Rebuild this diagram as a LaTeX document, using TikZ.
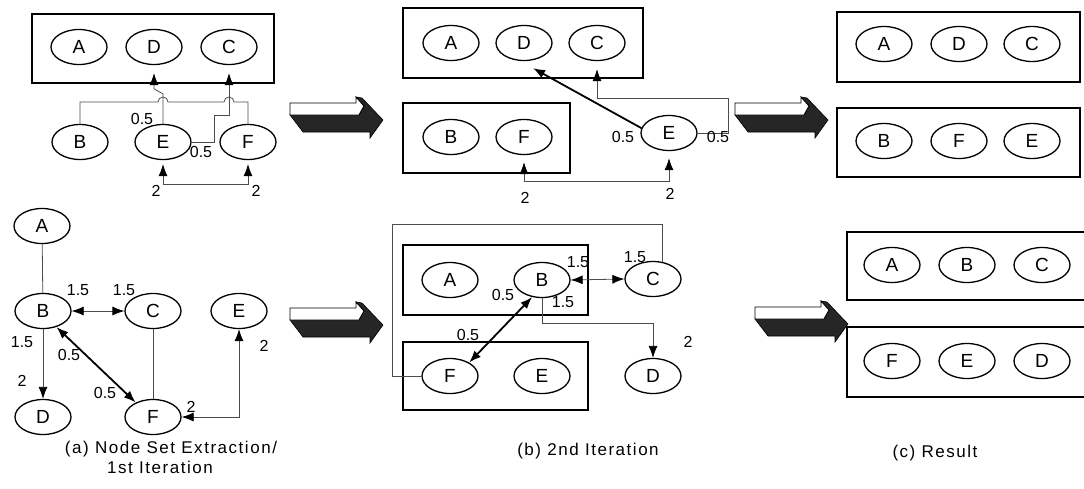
\documentclass[tikz,border=0pt]{standalone}
\usepackage{fontspec}
\setmainfont{Liberation Sans}
\usetikzlibrary{shapes.geometric,arrows.meta,calc}

\tikzset{
  tri/.tip={Latex[length=12pt,width=9pt,color=black]},
  nd/.style={ellipse, draw=black, line width=1.3pt, minimum width=56pt,
    minimum height=35pt, inner sep=0pt, font=\fontsize{19}{19}\selectfont},
  grp/.style={draw=black, line width=1.6pt},
  ln/.style={draw=black!70, line width=0.8pt},
  arr/.style={ln, -tri},
  darr/.style={ln, tri-tri},
  thk/.style={draw=black, line width=1.8pt},
  lbl/.style={inner sep=0pt, font=\fontsize{16}{16}\selectfont},
  capt/.style={inner sep=0pt, align=center,
    font=\fontsize{17}{19}\selectfont\addfontfeature{LetterSpace=9}},
  % shaded 3-D block arrow between the stages
  blockarrow/.pic={
    \fill[black!85, draw=black, line width=0.6pt]
      (0,18) -- (69,18) -- (74,9) -- (66,0) -- (72,1) -- (93,23)
      -- (80,41) -- (80,35) -- (13,35) -- cycle;
    \filldraw[fill=white, draw=black, line width=0.9pt]
      (0,6) -- (66,6) -- (66,0) -- (74,9) -- (69,18) -- (0,18) -- cycle;
  }
}

\begin{document}
\begin{tikzpicture}[x=1pt,y=-1pt]
\useasboundingbox (0,0) rectangle (1084,488);

% ---------- (a) upper: node set extraction ----------
\draw[grp] (32,14) rectangle (274,83);
\node[nd] (a1A) at (79,47) {A};
\node[nd] (a1D) at (154,47) {D};
\node[nd] (a1C) at (229,47) {C};
\node[nd] (a1B) at (80,142) {B};
\node[nd] (a1E) at (163,142) {E};
\node[nd] (a1F) at (248,142) {F};
\draw[ln] (a1B.north) |- (158,102)
  arc[start angle=180,end angle=0,radius=5pt] -- (224,102)
  arc[start angle=180,end angle=0,radius=5pt] -| (a1F.north);
\draw[arr,shorten >=8pt] (a1E.north) -- ++(0,-30) -- ++(-9,-5) -| (a1D.south);
\draw[arr,shorten >=8pt] (a1E.east) -- ++(23,0) |- ($(a1C.south)+(0,50)$) -- (a1C.south);
\draw[darr,shorten <=4pt,shorten >=4pt] (a1E.south) |- ($(a1F.south)+(0,24)$) -- (a1F.south);
\node[lbl] (a1l1) at (142,119) {0.5};
\node[lbl] (a1l2) at (201,152) {0.5};
\node[lbl] (a1l3) at (156,191) {2};
\node[lbl] (a1l4) at (256,191) {2};

% ---------- (a) lower: graph ----------
\node[nd] (a2A) at (42,226) {A};
\node[nd] (a2B) at (43,311) {B};
\node[nd] (a2C) at (153,311) {C};
\node[nd] (a2E) at (239,311) {E};
\node[nd] (a2D) at (43,417) {D};
\node[nd] (a2F) at (153,417) {F};
\draw[ln] (a2A) -- (a2B);
\draw[darr] (a2B.east) -- (a2C.west);
\draw[arr] (a2B.south) -- (a2D.north);
\draw[ln] (a2C.south) -- (a2F.north);
\draw[thk,tri-tri] (a2B.-50) -- (a2F.140);
\draw[darr] (a2F.east) -| (a2E.south);
\node[lbl] (a2l1) at (78,290) {1.5};
\node[lbl] (a2l2) at (124,290) {1.5};
\node[lbl] (a2l3) at (22,342) {1.5};
\node[lbl] (a2l4) at (69,355) {0.5};
\node[lbl] (a2l5) at (22,381) {2};
\node[lbl] (a2l6) at (105,393) {0.5};
\node[lbl] (a2l7) at (191,407) {2};
\node[lbl] (a2l8) at (264,346) {2};
\node[capt] (capa) at (171,449) {(a) Node Set Extraction/};
\node[capt] (capa2) at (160,467) {1st Iteration};

% ---------- (b) upper: 2nd iteration ----------
\draw[grp] (403,8) rectangle (643,78);
\draw[grp] (403,103) rectangle (570,173);
\node[nd] (b1A) at (451,43) {A};
\node[nd] (b1D) at (524,43) {D};
\node[nd] (b1C) at (597,43) {C};
\node[nd] (b1B) at (451,137) {B};
\node[nd] (b1F) at (524,137) {F};
\node[nd] (b1E) at (669,133) {E};
\draw[thk,-tri] (b1E.170) -- ($(b1D.south)+(9,7)$);
\draw[arr,shorten >=8pt] (b1E.east) -- ++(31,0) |- ($(b1C.south)+(0,37)$) -- (b1C.south);
\draw[darr,shorten <=7pt,shorten >=7pt] (b1F.south) |- ($(b1E.south)+(0,30)$) -- (b1E.south);
\node[lbl] (b1l1) at (623,137) {0.5};
\node[lbl] (b1l2) at (718,137) {0.5};
\node[lbl] (b1l3) at (525,198) {2};
\node[lbl] (b1l4) at (670,194) {2};

% ---------- (b) lower ----------
\draw[grp] (403,245) rectangle (588,315);
\draw[grp] (403,342) rectangle (588,410);
\node[nd] (b2A) at (450,280) {A};
\node[nd] (b2B) at (542,280) {B};
\node[nd] (b2C) at (653,279) {C};
\node[nd] (b2F) at (450,376) {F};
\node[nd] (b2E) at (542,376) {E};
\node[nd] (b2D) at (653,376) {D};
\draw[ln] (b2F.west) -- ++(-29,0) |- ($(b2C.60)+(0,-38)$) -- (b2C.60);
\draw[darr] (b2B.east) -- (b2C.west);
\draw[arr] (b2B.south) -- ++(0,25) -| (b2D.north);
\draw[thk,tri-tri] (b2B.240) -- (b2F.35);
\node[lbl] (b2l1) at (578,262) {1.5};
\node[lbl] (b2l2) at (635,257) {1.5};
\node[lbl] (b2l3) at (503,295) {0.5};
\node[lbl] (b2l4) at (563,302) {1.5};
\node[lbl] (b2l5) at (468,335) {0.5};
\node[lbl] (b2l6) at (688,342) {2};
\node[capt] (capb) at (588,451) {(b) 2nd Iteration};

% ---------- (c) upper: result ----------
\draw[grp] (837,12) rectangle (1080,82);
\draw[grp] (837,108) rectangle (1080,177);
\node[nd] (c1A) at (884,44) {A};
\node[nd] (c1D) at (959,44) {D};
\node[nd] (c1C) at (1032,44) {C};
\node[nd] (c1B) at (884,141) {B};
\node[nd] (c1F) at (959,141) {F};
\node[nd] (c1E) at (1032,141) {E};

% ---------- (c) lower ----------
\draw[grp] (1084,232) -- (847,232) -- (847,300) -- (1084,300);
\draw[grp] (1084,327) -- (847,327) -- (847,397) -- (1084,397);
\node[nd] (c2A) at (892,265) {A};
\node[nd] (c2B) at (967,265) {B};
\node[nd] (c2C) at (1042,265) {C};
\node[nd] (c2F) at (892,361) {F};
\node[nd] (c2E) at (967,361) {E};
\node[nd] (c2D) at (1042,361) {D};
\node[capt] (capc) at (935,453) {(c) Result};

% ---------- stage arrows ----------
\pic at (290,97) {blockarrow};
\pic at (735,97) {blockarrow};
\pic at (290,302) {blockarrow};
\pic at (755,301) {blockarrow};
\end{tikzpicture}
\end{document}
